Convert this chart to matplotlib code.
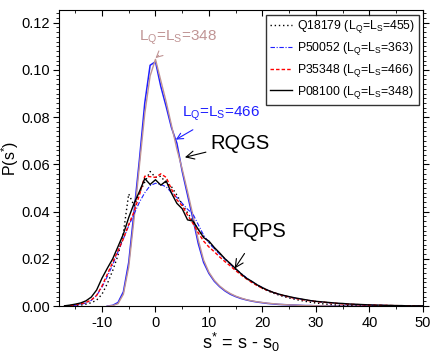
import numpy as np
import matplotlib.pyplot as plt
from matplotlib.ticker import MultipleLocator

plt.rcParams['font.family'] = ['Liberation Sans', 'DejaVu Sans']
plt.rcParams['mathtext.fontset'] = 'custom'
plt.rcParams['mathtext.rm'] = 'Liberation Sans'
plt.rcParams['mathtext.it'] = 'Liberation Sans:italic'
plt.rcParams['mathtext.bf'] = 'Liberation Sans:bold'
plt.rcParams['axes.unicode_minus'] = False

# FQPS distributions, s* grid -17..50
s_fq = list(range(-17, 51))
q18179 = [0.0, 0.0, 0.0002, 0.0004, 0.0008, 0.0014, 0.0025, 0.0050, 0.0095, 0.0150,
          0.0215, 0.0310, 0.0475, 0.0425, 0.0480, 0.0525, 0.0570, 0.0545, 0.0550, 0.0520,
          0.0505, 0.0470, 0.0430, 0.0395, 0.0360, 0.0325, 0.0295, 0.0270, 0.0245, 0.0222,
          0.0200, 0.0178, 0.0156, 0.0136, 0.0118, 0.0102, 0.0088, 0.0075, 0.0064, 0.0055,
          0.0047, 0.0040, 0.0034, 0.0029, 0.0024, 0.0020, 0.0016, 0.0013, 0.0010, 0.0008,
          0.0006, 0.0004, 0.0003, 0.0002, 0.0001, 0.0, 0.0, 0.0, 0.0, 0.0,
          0.0, 0.0, 0.0, 0.0, 0.0, 0.0, 0.0, 0.0]
p50052 = [0.0, 0.0001, 0.0003, 0.0007, 0.0013, 0.0024, 0.0045, 0.0080, 0.0125, 0.0175,
          0.0230, 0.0285, 0.0340, 0.0390, 0.0440, 0.0480, 0.0510, 0.0520, 0.0515, 0.0505,
          0.0480, 0.0460, 0.0435, 0.0410, 0.0390, 0.0345, 0.0300, 0.0268, 0.0242, 0.0220,
          0.0198, 0.0177, 0.0157, 0.0138, 0.0120, 0.0104, 0.0090, 0.0078, 0.0067, 0.0058,
          0.0050, 0.0044, 0.0039, 0.0034, 0.0030, 0.0026, 0.0023, 0.0020, 0.0017, 0.0015,
          0.0013, 0.0011, 0.0010, 0.0008, 0.0007, 0.0006, 0.0005, 0.0004, 0.0004, 0.0003,
          0.0003, 0.0002, 0.0002, 0.0001, 0.0001, 0.0001, 0.0001, 0.0]
p35348 = [0.0, 0.0002, 0.0005, 0.0009, 0.0015, 0.0026, 0.0045, 0.0085, 0.0135, 0.0185,
          0.0235, 0.0285, 0.0345, 0.0400, 0.0470, 0.0550, 0.0548, 0.0545, 0.0560, 0.0545,
          0.0495, 0.0450, 0.0425, 0.0385, 0.0350, 0.0310, 0.0275, 0.0250, 0.0230, 0.0208,
          0.0188, 0.0170, 0.0150, 0.0132, 0.0115, 0.0100, 0.0087, 0.0075, 0.0066, 0.0058,
          0.0050, 0.0044, 0.0038, 0.0033, 0.0029, 0.0025, 0.0022, 0.0019, 0.0017, 0.0015,
          0.0013, 0.0011, 0.0009, 0.0008, 0.0007, 0.0006, 0.0005, 0.0004, 0.0004, 0.0003,
          0.0003, 0.0002, 0.0002, 0.0001, 0.0001, 0.0001, 0.0, 0.0]
p08100 = [0.0001, 0.0004, 0.0008, 0.0013, 0.0022, 0.0038, 0.0068, 0.0118, 0.0160, 0.0200,
          0.0252, 0.0305, 0.0375, 0.0435, 0.0485, 0.0540, 0.0515, 0.0535, 0.0512, 0.0530,
          0.0478, 0.0435, 0.0412, 0.0365, 0.0360, 0.0325, 0.0290, 0.0275, 0.0248, 0.0225,
          0.0200, 0.0180, 0.0158, 0.0137, 0.0118, 0.0105, 0.0090, 0.0078, 0.0067, 0.0058,
          0.0051, 0.0045, 0.0040, 0.0035, 0.0031, 0.0027, 0.0023, 0.0020, 0.0018, 0.0016,
          0.0014, 0.0012, 0.0011, 0.0009, 0.0008, 0.0007, 0.0006, 0.0005, 0.0004, 0.0004,
          0.0003, 0.0003, 0.0002, 0.0002, 0.0001, 0.0001, 0.0001, 0.0001]

# RQGS distributions, s* grid -9..40
s_rq = list(range(-9, 41))
rq_466 = [0.0, 0.0003, 0.0015, 0.0060, 0.0185, 0.0400, 0.0620, 0.0860, 0.1020, 0.1035,
          0.0930, 0.0845, 0.0755, 0.0690, 0.0570, 0.0470, 0.0370, 0.0265, 0.0185, 0.0138,
          0.0105, 0.0082, 0.0064, 0.0050, 0.0040, 0.0032, 0.0026, 0.0021, 0.0017, 0.0014,
          0.0011, 0.0009, 0.0007, 0.0006, 0.0005, 0.0004, 0.0003, 0.0002, 0.0002, 0.0001,
          0.0001, 0.0001, 0.0, 0.0, 0.0, 0.0, 0.0, 0.0, 0.0, 0.0]
rq_348 = [0.0, 0.0002, 0.0010, 0.0050, 0.0165, 0.0370, 0.0595, 0.0815, 0.0975, 0.1045,
          0.0955, 0.0865, 0.0765, 0.0665, 0.0580, 0.0485, 0.0385, 0.0280, 0.0195, 0.0143,
          0.0109, 0.0085, 0.0067, 0.0053, 0.0042, 0.0034, 0.0027, 0.0022, 0.0018, 0.0015,
          0.0012, 0.0010, 0.0008, 0.0006, 0.0005, 0.0004, 0.0003, 0.0002, 0.0002, 0.0001,
          0.0001, 0.0001, 0.0, 0.0, 0.0, 0.0, 0.0, 0.0, 0.0, 0.0]

fq_labels = [r'Q18179 (L$_\mathrm{Q}$=L$_\mathrm{S}$=455)',
             r'P50052 (L$_\mathrm{Q}$=L$_\mathrm{S}$=363)',
             r'P35348 (L$_\mathrm{Q}$=L$_\mathrm{S}$=466)',
             r'P08100 (L$_\mathrm{Q}$=L$_\mathrm{S}$=348)']

fig = plt.figure(figsize=(4.32, 3.53), dpi=100)
ax = fig.add_axes([0.137, 0.133, 0.842, 0.838])

rose = '#c09494'
blue = '#1f1fff'
ax.plot(s_rq, rq_466, color=blue, lw=1.1)
ax.plot(s_rq, rq_348, color=rose, lw=1.0)

ax.plot(s_fq, q18179, color='black', ls=(0, (1, 2)), lw=1.0, label=fq_labels[0])
ax.plot(s_fq, p50052, color=blue, ls=(0, (4, 1.5, 1, 1.5)), lw=0.8, label=fq_labels[1])
ax.plot(s_fq, p35348, color='red', ls=(0, (2.5, 1.5)), lw=1.0, label=fq_labels[2])
ax.plot(s_fq, p08100, color='black', lw=1.0, label=fq_labels[3])

ax.set_xlim(-18, 50)
ax.set_ylim(0, 0.1253)
ax.xaxis.set_major_locator(MultipleLocator(10))
ax.xaxis.set_minor_locator(MultipleLocator(5))
ax.yaxis.set_major_locator(MultipleLocator(0.02))
ax.yaxis.set_minor_locator(MultipleLocator(0.002))
ax.yaxis.set_major_formatter(plt.FormatStrFormatter('%.2f'))
ax.tick_params(which='both', direction='out', labelsize=10.5, top=True, right=True)
ax.tick_params(which='major', length=4, width=0.8)
ax.tick_params(which='minor', length=2, width=0.6)
ax.tick_params(axis='y', which='major', pad=2.5)
for t in ax.xaxis.get_major_ticks() + ax.xaxis.get_minor_ticks():
    t.tick2line.set_marker(3)  # top ticks point down into the frame

ax.set_xlabel(r's$^{*}$ = s - s$_\mathrm{0}$', fontsize=13, labelpad=0)
ax.set_ylabel(r'P(s$^{*}$)', fontsize=11.5)
ax.yaxis.set_label_coords(-0.106, 0.5)

ax.annotate(r'L$_\mathrm{Q}$=L$_\mathrm{S}$=348', xy=(0, 0.105), xytext=(4.2, 0.1136),
            color=rose, fontsize=11, ha='center', va='center',
            arrowprops=dict(arrowstyle='->', color=rose, lw=0.8, shrinkA=6, shrinkB=0))
ax.annotate(r'L$_\mathrm{Q}$=L$_\mathrm{S}$=466', xy=(3.8, 0.0705), xytext=(12.2, 0.0815),
            color=blue, fontsize=11, ha='center', va='center',
            arrowprops=dict(arrowstyle='->', color=blue, lw=0.8, shrinkA=6, shrinkB=0))
ax.annotate('RQGS', xy=(5.5, 0.063), xytext=(10.2, 0.0687),
            fontsize=14.5, ha='left', va='center',
            arrowprops=dict(arrowstyle='->', color='black', lw=0.8, shrinkA=1, shrinkB=0))
ax.annotate('FQPS', xy=(14.8, 0.0159), xytext=(19.3, 0.0314),
            fontsize=14.5, ha='center', va='center',
            arrowprops=dict(arrowstyle='->', color='black', lw=0.8, shrinkA=8, shrinkB=0))

leg = ax.legend(loc='upper right', bbox_to_anchor=(1.0, 1.0), fontsize=8.8,
                frameon=True, fancybox=False, borderaxespad=0.35,
                handlelength=1.8, handletextpad=0.4, labelspacing=0.4, borderpad=0.3)
leg.get_frame().set_edgecolor('black')
leg.get_frame().set_linewidth(1.0)

fig.savefig('out.png', dpi=100)
